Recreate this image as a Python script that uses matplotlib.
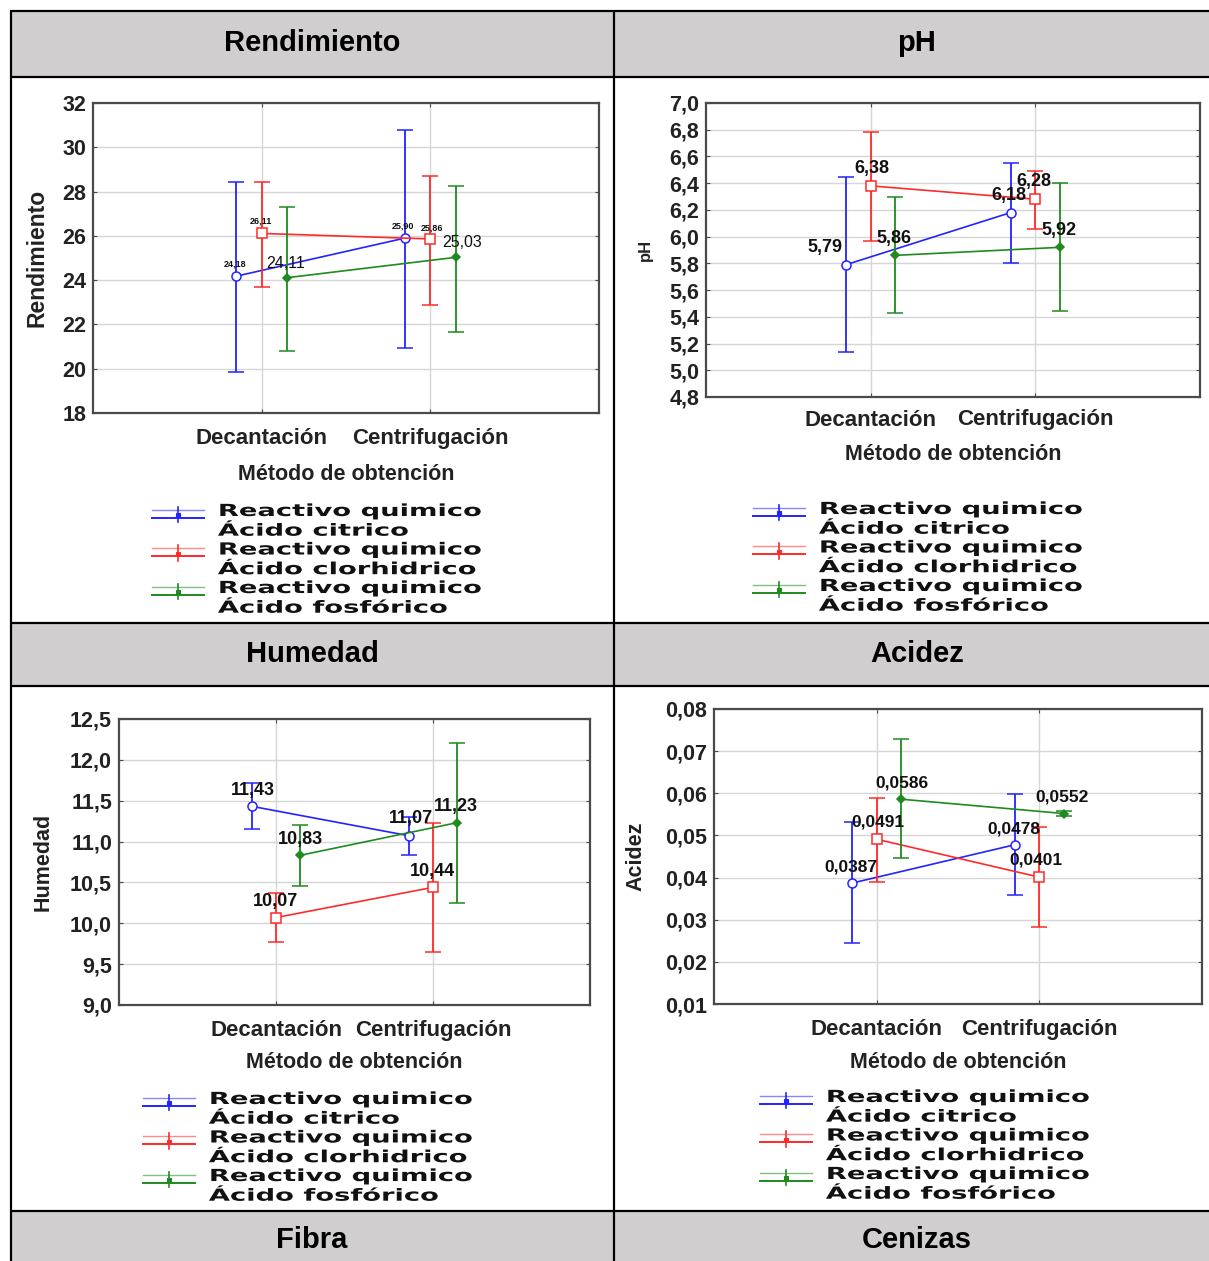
import matplotlib
matplotlib.use("Agg")
import numpy as np
import matplotlib.pyplot as plt
from matplotlib import patheffects
from matplotlib.transforms import Affine2D
from matplotlib.legend_handler import HandlerBase
from matplotlib.lines import Line2D
from matplotlib.patches import Rectangle

plt.rcParams["font.family"] = ["Liberation Sans", "DejaVu Sans"]

# ---------------------------------------------------------------- data
categories = ["Decantación", "Centrifugación"]
series_labels = ["Reactivo quimico\nÁcido citrico",
                 "Reactivo quimico\nÁcido clorhidrico",
                 "Reactivo quimico\nÁcido fosfórico"]
headers = ["Rendimiento", "pH", "Humedad", "Acidez", "Fibra", "Cenizas"]
xlabel_text = "Método de obtención"

# rows: citrico, clorhidrico, fosforico ; columns: Decantación, Centrifugación
rend_mean = [[24.18, 25.90], [26.11, 25.86], [24.11, 25.03]]
rend_low = [[19.85, 20.93], [23.69, 22.88], [20.80, 21.66]]
rend_high = [[28.43, 30.78], [28.43, 28.70], [27.30, 28.25]]
rend_ticks = [18, 20, 22, 24, 26, 28, 30, 32]
rend_ticklabels = ["18", "20", "22", "24", "26", "28", "30", "32"]

ph_mean = [[5.79, 6.18], [6.38, 6.28], [5.86, 5.92]]
ph_low = [[5.14, 5.80], [5.97, 6.06], [5.43, 5.44]]
ph_high = [[6.45, 6.55], [6.78, 6.49], [6.30, 6.40]]
ph_ticks = [4.8, 5.0, 5.2, 5.4, 5.6, 5.8, 6.0, 6.2, 6.4, 6.6, 6.8, 7.0]
ph_ticklabels = ["4,8", "5,0", "5,2", "5,4", "5,6", "5,8", "6,0", "6,2",
                 "6,4", "6,6", "6,8", "7,0"]

hum_mean = [[11.43, 11.07], [10.07, 10.44], [10.83, 11.23]]
hum_low = [[11.15, 10.84], [9.77, 9.65], [10.46, 10.25]]
hum_high = [[11.72, 11.30], [10.37, 11.23], [11.20, 12.21]]
hum_ticks = [9.0, 9.5, 10.0, 10.5, 11.0, 11.5, 12.0, 12.5]
hum_ticklabels = ["9,0", "9,5", "10,0", "10,5", "11,0", "11,5", "12,0", "12,5"]

acid_mean = [[0.0387, 0.0478], [0.0491, 0.0401], [0.0586, 0.0552]]
acid_low = [[0.0245, 0.0359], [0.0389, 0.0283], [0.0446, 0.0545]]
acid_high = [[0.0532, 0.0598], [0.0589, 0.0519], [0.0729, 0.0559]]
acid_ticks = [0.01, 0.02, 0.03, 0.04, 0.05, 0.06, 0.07, 0.08]
acid_ticklabels = ["0,01", "0,02", "0,03", "0,04", "0,05", "0,06", "0,07", "0,08"]

# ---------------------------------------------------------------- style
W, H = 1209, 1261
colors = ["#2323ff", "#ff2a2a", "#1f8a1f"]
markers = ["o", "s", "D"]
marker_sizes = [6.5, 7, 4.2]
marker_faces = ["white", "white", "#1f8a1f"]
x_shift = [-0.15, 0.0, 0.15]
grid_color = "#d6d6d6"
header_gray = "#d0cece"

fig = plt.figure(figsize=(W / 100, H / 100), dpi=100)

# table frame behind the charts
bg = fig.add_axes([0, 0, 1, 1], zorder=-5)
bg.set_xlim(0, W)
bg.set_ylim(H, 0)
bg.axis("off")
for y0, y1 in [(11, 77), (623, 686), (1211, 1265)]:
    bg.add_patch(Rectangle((11, y0), W - 11, y1 - y0, facecolor=header_gray,
                           edgecolor="none"))
for yy in [11, 77, 623, 686, 1211]:
    bg.plot([10, W], [yy, yy], color="black", lw=1.6, solid_capstyle="butt")
for xx in [11, 614]:
    bg.plot([xx, xx], [10, H], color="black", lw=1.6, solid_capstyle="butt")
header_pos = [(312, 43), (917, 43), (312, 654), (917, 654), (312, 1240), (917, 1240)]
for txt, (hx, hy) in zip(headers, header_pos):
    bg.text(hx, hy, txt, ha="center", va="center", fontsize=21,
            fontweight="bold", color="black")


class Stretch(patheffects.AbstractPathEffect):
    """Widen glyphs horizontally about each line's origin."""

    def __init__(self, sx):
        super().__init__()
        self._sx = sx

    def draw_path(self, renderer, gc, tpath, affine, rgbFace=None):
        renderer.draw_path(gc, tpath, Affine2D().scale(self._sx, 1) + affine,
                           rgbFace)


class WhiskerHandler(HandlerBase):
    """Legend key: double rule with a small whisker and marker."""

    def create_artists(self, legend, orig_handle, xdescent, ydescent,
                       width, height, fontsize, trans):
        c = orig_handle.get_color()
        yc = height / 2 - ydescent + 6.0
        xm = width / 2 - xdescent
        top = Line2D([-xdescent, width - xdescent], [yc + 3, yc + 3],
                     color=c, lw=1.0, alpha=0.55, transform=trans)
        bot = Line2D([-xdescent, width - xdescent], [yc - 3, yc - 3],
                     color=c, lw=1.4, transform=trans)
        whisk = Line2D([xm, xm], [yc - 6, yc + 5], color=c, lw=1.2,
                       transform=trans)
        mk = Line2D([xm], [yc - 1], color=c, marker="s", ms=2.5,
                    markeredgewidth=0.8, transform=trans)
        return [top, bot, whisk, mk]


def ax_at(l, t, r, b):
    return fig.add_axes([l / W, 1 - b / H, (r - l) / W, (b - t) / H])


def panel(box, means, lows, highs, ticks, ticklabels, ylabel, decimals,
          ylab_px, xtick_pad, xlab_px, ylab_size, label_style, label_offsets,
          legend_xy):
    l, t, r, b = box
    ax = ax_at(l, t, r, b)
    w_px, h_px = r - l, b - t
    x = np.arange(len(categories))
    for i in range(3):
        m = np.array(means[i])
        lo = np.array(lows[i])
        hi = np.array(highs[i])
        xs = x + x_shift[i]
        ax.errorbar(xs, m, yerr=[m - lo, hi - m], color=colors[i],
                    marker=markers[i], ms=marker_sizes[i],
                    mfc=marker_faces[i], mec=colors[i], mew=1.1, lw=1.2,
                    elinewidth=1.3, capsize=6, capthick=1.2, zorder=3 + i)
        fs, fw, dy = label_style[i]
        for j in range(len(categories)):
            txt = f"{m[j]:.{decimals}f}".replace(".", ",")
            dx, ddy = label_offsets[i][j]
            ax.annotate(txt, (xs[j], m[j]), xytext=(dx * 0.72, (dy + ddy) * 0.72),
                        textcoords="offset points", ha="center", va="center",
                        fontsize=fs, fontweight=fw, color="#111111", zorder=10)
    ax.set_xlim(-1, 2)
    ax.set_ylim(ticks[0], ticks[-1])
    ax.set_xticks(x)
    ax.set_xticklabels(categories)
    ax.set_yticks(ticks)
    ax.set_yticklabels(ticklabels)
    ax.grid(True, color=grid_color, lw=1.0, zorder=0)
    ax.set_axisbelow(True)
    for s in ax.spines.values():
        s.set_color("#4a4a4a")
        s.set_linewidth(1.6)
    ax.tick_params(axis="both", direction="in", length=3, width=0.8,
                   colors="#4a4a4a", labelcolor="#222222", labelsize=15.5,
                   top=True, right=True)
    ax.tick_params(axis="y", pad=5)
    ax.tick_params(axis="x", pad=xtick_pad)
    for lab in ax.get_xticklabels() + ax.get_yticklabels():
        lab.set_fontweight("bold")
    for lab in ax.get_xticklabels():
        lab.set_fontsize(16)
    ax.set_xlabel(xlabel_text, fontsize=15.5, fontweight="bold", color="#222222")
    ax.xaxis.set_label_coords(0.5, -xlab_px / h_px)
    ax.xaxis.label.set_va("center")
    ax.set_ylabel(ylabel, fontsize=ylab_size, fontweight="bold", color="#222222")
    ax.yaxis.set_label_coords(-ylab_px / w_px, 0.5)
    ax.yaxis.label.set_va("center")

    proxies = [Line2D([], [], color=c) for c in colors]
    lx, ly = legend_xy
    leg = ax.legend(proxies, series_labels, loc="upper left",
                    bbox_to_anchor=(lx / W, 1 - ly / H),
                    bbox_transform=fig.transFigure, frameon=False,
                    prop={"family": "DejaVu Sans", "weight": "bold", "size": 12},
                    handler_map={Line2D: WhiskerHandler()},
                    handlelength=3.1, handletextpad=0.85, labelspacing=0.05,
                    borderpad=0, borderaxespad=0)
    for t_ in leg.get_texts():
        t_.set_linespacing(1.12)
        t_.set_path_effects([Stretch(1.64)])
        t_.set_color("#111111")
    return ax


panel((93, 103, 599, 413), rend_mean, rend_low, rend_high, rend_ticks,
      rend_ticklabels, "Rendimiento", 2, ylab_px=56, xtick_pad=11, xlab_px=62,
      ylab_size=16.5,
      label_style=[(6.5, "bold", 12), (6.5, "bold", 12), (11.5, "normal", 15)],
      label_offsets=[[(-1, 0), (-2, 0)], [(-1, 0), (2, -1)], [(-1, -1), (6, 0)]],
      legend_xy=(152, 502))

panel((706, 103, 1200, 397), ph_mean, ph_low, ph_high, ph_ticks,
      ph_ticklabels, "pH", 2, ylab_px=61, xtick_pad=9, xlab_px=58,
      ylab_size=12,
      label_style=[(13, "bold", 17)] * 3,
      label_offsets=[[(-21, 0), (-2, 0)], [(1, 0), (-1, 1)], [(-1, 0), (-1, 0)]],
      legend_xy=(753, 500))

panel((119, 719, 590, 1005), hum_mean, hum_low, hum_high, hum_ticks,
      hum_ticklabels, "Humedad", 2, ylab_px=76, xtick_pad=10.5, xlab_px=57,
      ylab_size=15.5,
      label_style=[(13, "bold", 16)] * 3,
      label_offsets=[[(0, 0), (1, 1)], [(-1, 0), (-1, 0)], [(1, 0), (-1, 0)]],
      legend_xy=(143, 1090))

panel((714, 709, 1202, 1004), acid_mean, acid_low, acid_high, acid_ticks,
      acid_ticklabels, "Acidez", 4, ylab_px=78, xtick_pad=10.5, xlab_px=58,
      ylab_size=15.5,
      label_style=[(12.5, "bold", 16)] * 3,
      label_offsets=[[(-1, 0), (-1, 0)], [(1, 1), (-3, 1)], [(1, 0), (-2, 1)]],
      legend_xy=(760, 1088))

fig.savefig("out.png", dpi=100)
